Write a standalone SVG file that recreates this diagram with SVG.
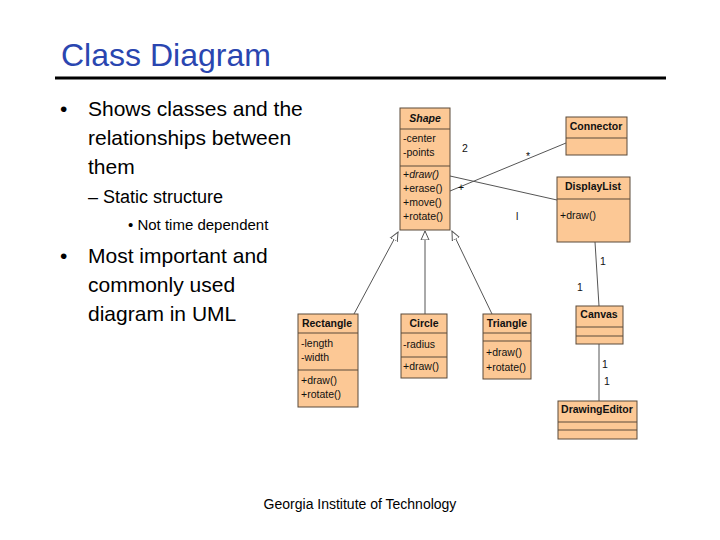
<svg xmlns="http://www.w3.org/2000/svg" width="720" height="540" viewBox="0 0 720 540">
<style>
.b{fill:#fcc895;stroke:#5a4a3a;stroke-width:1}
.d{stroke:#5a4a3a;stroke-width:1}
.t{font-family:"Liberation Sans",Arial,sans-serif;font-size:10.5px;fill:#111}
.h{font-family:"Liberation Sans",Arial,sans-serif;font-size:10.5px;font-weight:bold;fill:#111;text-anchor:middle}
.s{font-family:"Liberation Sans",Arial,sans-serif;fill:#000}
.c{stroke:#555;stroke-width:1;fill:none}
</style>
<defs><marker id="tri" markerWidth="10" markerHeight="10" refX="9" refY="5" orient="auto" markerUnits="userSpaceOnUse"><path d="M0,1 L9,5 L0,9 Z" fill="#fff" stroke="#555"/></marker></defs>
<rect width="720" height="540" fill="#fff"/>
<text x="61" y="66" class="s" font-size="32" fill="#1f3fa0" style="fill:#2a46b0">Class Diagram</text>
<line x1="55" y1="78" x2="666" y2="78" stroke="#000" stroke-width="3"/>
<g class="s" font-size="21">
<text x="60" y="116">•</text>
<text x="88" y="116">Shows classes and the</text>
<text x="88" y="145">relationships between</text>
<text x="88" y="174">them</text>
<text x="88" y="203" font-size="18">– Static structure</text>
<text x="128" y="230" font-size="15">•  Not time dependent</text>
<text x="60" y="263">•</text>
<text x="88" y="263">Most important and</text>
<text x="88" y="292">commonly used</text>
<text x="88" y="321">diagram in UML</text>
</g>
<g id="connectors">
<line class="c" x1="450" y1="191" x2="566" y2="143"/>
<line class="c" x1="450" y1="176" x2="557" y2="200"/>
<line class="c" x1="354" y1="314" x2="398" y2="232" marker-end="url(#tri)"/>
<line class="c" x1="425" y1="314" x2="425" y2="231" marker-end="url(#tri)"/>
<line class="c" x1="492" y1="314" x2="452" y2="231" marker-end="url(#tri)"/>
<line class="c" x1="595" y1="242" x2="599" y2="306"/>
<line class="c" x1="599" y1="344" x2="599" y2="401"/>
<g class="t"><text x="462" y="152">2</text><text x="526" y="160">*</text><text x="458" y="191">+</text><text x="516" y="220">l</text>
<text x="600" y="265">1</text><text x="577" y="291">1</text><text x="602" y="368">1</text><text x="604" y="385">1</text></g>
</g>
<g id="shape"><rect class="b" x="400" y="108" width="50" height="122"/><line class="d" x1="400" y1="129" x2="450" y2="129"/><line class="d" x1="400" y1="166" x2="450" y2="166"/>
<text class="h" x="425" y="122" font-style="italic">Shape</text>
<text class="t" x="403" y="142">-center</text><text class="t" x="403" y="156">-points</text>
<text class="t" x="403" y="178"><tspan>+</tspan><tspan font-style="italic">draw()</tspan></text><text class="t" x="403" y="192">+erase()</text><text class="t" x="403" y="206">+move()</text><text class="t" x="403" y="220">+rotate()</text></g>
<g id="connector"><rect class="b" x="566" y="117" width="61" height="38"/><line class="d" x1="566" y1="138" x2="627" y2="138"/><text class="h" x="596" y="130">Connector</text></g>
<g id="displaylist"><rect class="b" x="557" y="177" width="73" height="65"/><line class="d" x1="557" y1="199" x2="630" y2="199"/><text class="h" x="593" y="190">DisplayList</text><text class="t" x="560" y="219">+draw()</text></g>
<g id="rectangle"><rect class="b" x="298" y="314" width="60" height="93"/><line class="d" x1="298" y1="333" x2="358" y2="333"/><line class="d" x1="298" y1="370" x2="358" y2="370"/>
<text class="h" x="327" y="327">Rectangle</text><text class="t" x="301" y="347">-length</text><text class="t" x="301" y="361">-width</text><text class="t" x="301" y="384">+draw()</text><text class="t" x="301" y="398">+rotate()</text></g>
<g id="circle"><rect class="b" x="401" y="314" width="46" height="64"/><line class="d" x1="401" y1="333" x2="447" y2="333"/><line class="d" x1="401" y1="357" x2="447" y2="357"/>
<text class="h" x="424" y="327">Circle</text><text class="t" x="403" y="348">-radius</text><text class="t" x="403" y="370">+draw()</text></g>
<g id="triangle"><rect class="b" x="483" y="314" width="48" height="65"/><line class="d" x1="483" y1="333" x2="531" y2="333"/><line class="d" x1="483" y1="341" x2="531" y2="341"/>
<text class="h" x="507" y="327">Triangle</text><text class="t" x="486" y="356">+draw()</text><text class="t" x="486" y="371">+rotate()</text></g>
<g id="canvas"><rect class="b" x="576" y="306" width="47" height="38"/><line class="d" x1="576" y1="327" x2="623" y2="327"/><line class="d" x1="576" y1="336" x2="623" y2="336"/><text class="h" x="599" y="318">Canvas</text></g>
<g id="drawingeditor"><rect class="b" x="558" y="401" width="79" height="38"/><line class="d" x1="558" y1="422" x2="637" y2="422"/><line class="d" x1="558" y1="430" x2="637" y2="430"/><text class="h" x="597" y="413">DrawingEditor</text></g>
<text class="s" x="360" y="509" font-size="14" text-anchor="middle">Georgia Institute of Technology</text>
</svg>
